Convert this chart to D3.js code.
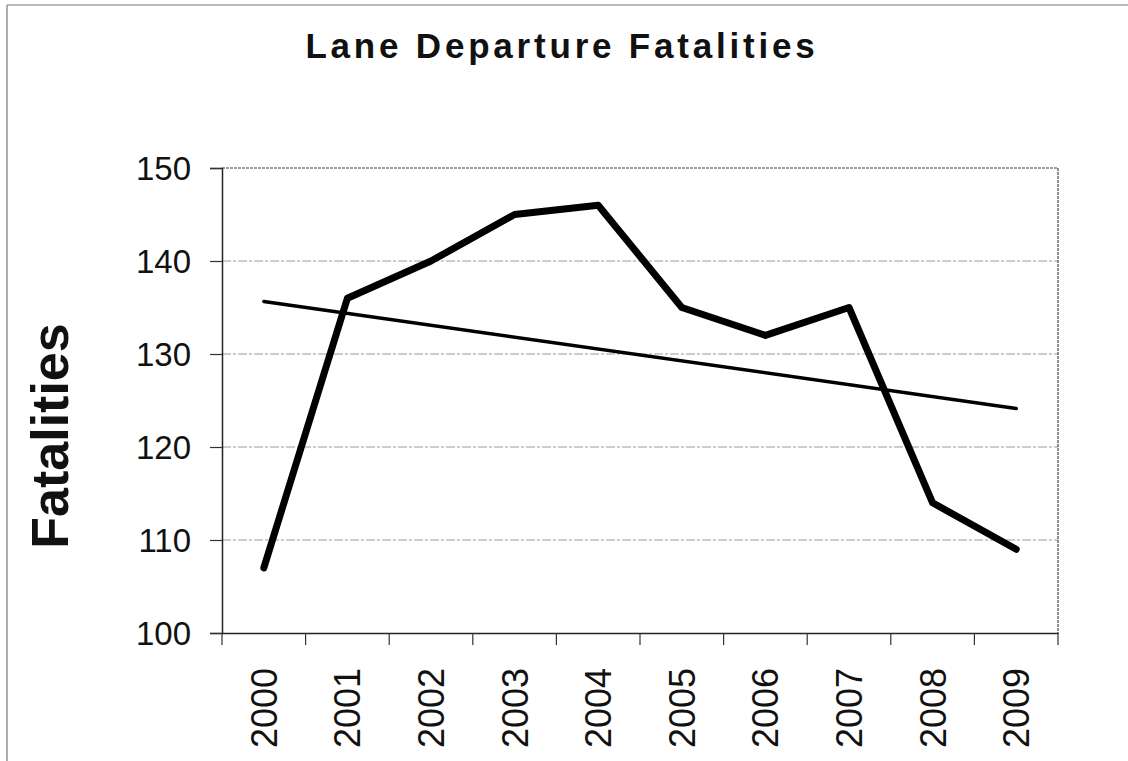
<!DOCTYPE html>
<html lang="en">
<head>
<meta charset="utf-8">
<title>Lane Departure Fatalities</title>
<script src="https://d3js.org/d3.v7.min.js"></script>
<style type="text/css">
  body { margin: 0; background: #fff; }
  text { font-family: "Liberation Sans", Arial, sans-serif; fill: #111; }
</style>
</head>
<body>
<svg width="1128" height="761" id="chart"></svg>
<script>
  var years = ["2000", "2001", "2002", "2003", "2004", "2005", "2006", "2007", "2008", "2009"];
  var fatalities = [107, 136, 140, 145, 146, 135, 132, 135, 114, 109];
  var yTicks = [100, 110, 120, 130, 140, 150];

  var svg = d3.select("#chart");
  var margin = {top: 168, right: 70, bottom: 128, left: 222};
  var width = 1128 - margin.left - margin.right;
  var height = 761 - margin.top - margin.bottom;

  // outer chart frame (only top and left show in the scan)
  svg.append("line").attr("x1", 7).attr("x2", 1128).attr("y1", 5).attr("y2", 5)
    .attr("stroke", "#777").attr("stroke-width", 1.2);
  svg.append("line").attr("x1", 7).attr("x2", 7).attr("y1", 5).attr("y2", 761)
    .attr("stroke", "#777").attr("stroke-width", 1.2);

  svg.append("text")
    .attr("x", 562).attr("y", 58)
    .attr("text-anchor", "middle")
    .attr("font-size", 35).attr("font-weight", "bold")
    .attr("letter-spacing", 3.8)
    .text("Lane Departure Fatalities");

  var g = svg.append("g").attr("transform", `translate(${margin.left}, ${margin.top})`);

  var xScale = d3.scaleBand().domain(years).range([0, width]).padding(0);
  var yScale = d3.scaleLinear().domain([100, 150]).range([height, 0]);

  // gridlines
  g.append("g").selectAll("line").data(yTicks.slice(1, -1)).enter().append("line")
    .attr("x1", 0).attr("x2", width)
    .attr("y1", function(d) { return yScale(d); })
    .attr("y2", function(d) { return yScale(d); })
    .attr("stroke", "#bdbdbd").attr("stroke-width", 1.3)
    .attr("stroke-dasharray", "9,2,3,2");

  // plot area border top/right
  g.append("path")
    .attr("d", `M0,0H${width}V${height}`)
    .attr("fill", "none").attr("stroke", "#444").attr("stroke-width", 1.2)
    .attr("stroke-dasharray", "3,1");

  var xAxis = d3.axisBottom(xScale).tickSize(0).tickFormat("");
  var yAxis = d3.axisLeft(yScale).tickValues(yTicks).tickSize(12).tickPadding(19);

  var xg = g.append("g").attr("transform", `translate(0, ${height})`).call(xAxis);
  xg.select(".domain").attr("stroke", "#222").attr("stroke-width", 1.5);
  // ticks on band edges
  var edges = years.map(function(d) { return xScale(d); }).concat([width]);
  xg.selectAll(".edge").data(edges).enter().append("line").attr("class", "edge")
    .attr("x1", function(d) { return d; }).attr("x2", function(d) { return d; })
    .attr("y1", 0).attr("y2", 12)
    .attr("stroke", "#333").attr("stroke-width", 1.2);
  xg.selectAll(".lab").data(years).enter().append("text").attr("class", "lab")
    .attr("transform", function(d) {
      return `translate(${xScale(d) + xScale.bandwidth() / 2 + 13}, 35) rotate(-90)`;
    })
    .attr("text-anchor", "end")
    .attr("font-size", 36)
    .text(function(d) { return d; });

  var yg = g.append("g").call(yAxis);
  yg.select(".domain").attr("stroke", "#222").attr("stroke-width", 1.5);
  yg.selectAll(".tick line").attr("stroke", "#333").attr("stroke-width", 1.2);
  yg.selectAll(".tick text")
    .attr("font-size", 33)
    .attr("font-family", "Liberation Sans, Arial, sans-serif")
    .attr("fill", "#111")
    .attr("dy", "0.36em");

  svg.append("text")
    .attr("transform", "translate(68, 436) rotate(-90)")
    .attr("text-anchor", "middle")
    .attr("font-size", 52).attr("font-weight", "bold")
    .text("Fatalities");

  var pts = years.map(function(d, i) { return {year: d, value: fatalities[i]}; });
  var cx = function(d) { return xScale(d) + xScale.bandwidth() / 2; };

  // linear trend line (least squares over the series)
  var n = fatalities.length;
  var mx = d3.mean(d3.range(n)), my = d3.mean(fatalities);
  var sxy = d3.sum(fatalities, function(v, i) { return (i - mx) * (v - my); });
  var sxx = d3.sum(d3.range(n), function(i) { return (i - mx) * (i - mx); });
  var slope = sxy / sxx, icpt = my - slope * mx;

  g.append("line")
    .attr("x1", cx(years[0])).attr("x2", cx(years[n - 1]))
    .attr("y1", yScale(icpt)).attr("y2", yScale(icpt + slope * (n - 1)))
    .attr("stroke", "#000").attr("stroke-width", 3.5).attr("stroke-linecap", "round");

  var line = d3.line()
    .x(function(d) { return cx(d.year); })
    .y(function(d) { return yScale(d.value); });

  g.append("path").datum(pts)
    .attr("d", line)
    .attr("fill", "none").attr("stroke", "#000")
    .attr("stroke-width", 7).attr("stroke-linejoin", "round").attr("stroke-linecap", "round");
</script>
</body>
</html>
